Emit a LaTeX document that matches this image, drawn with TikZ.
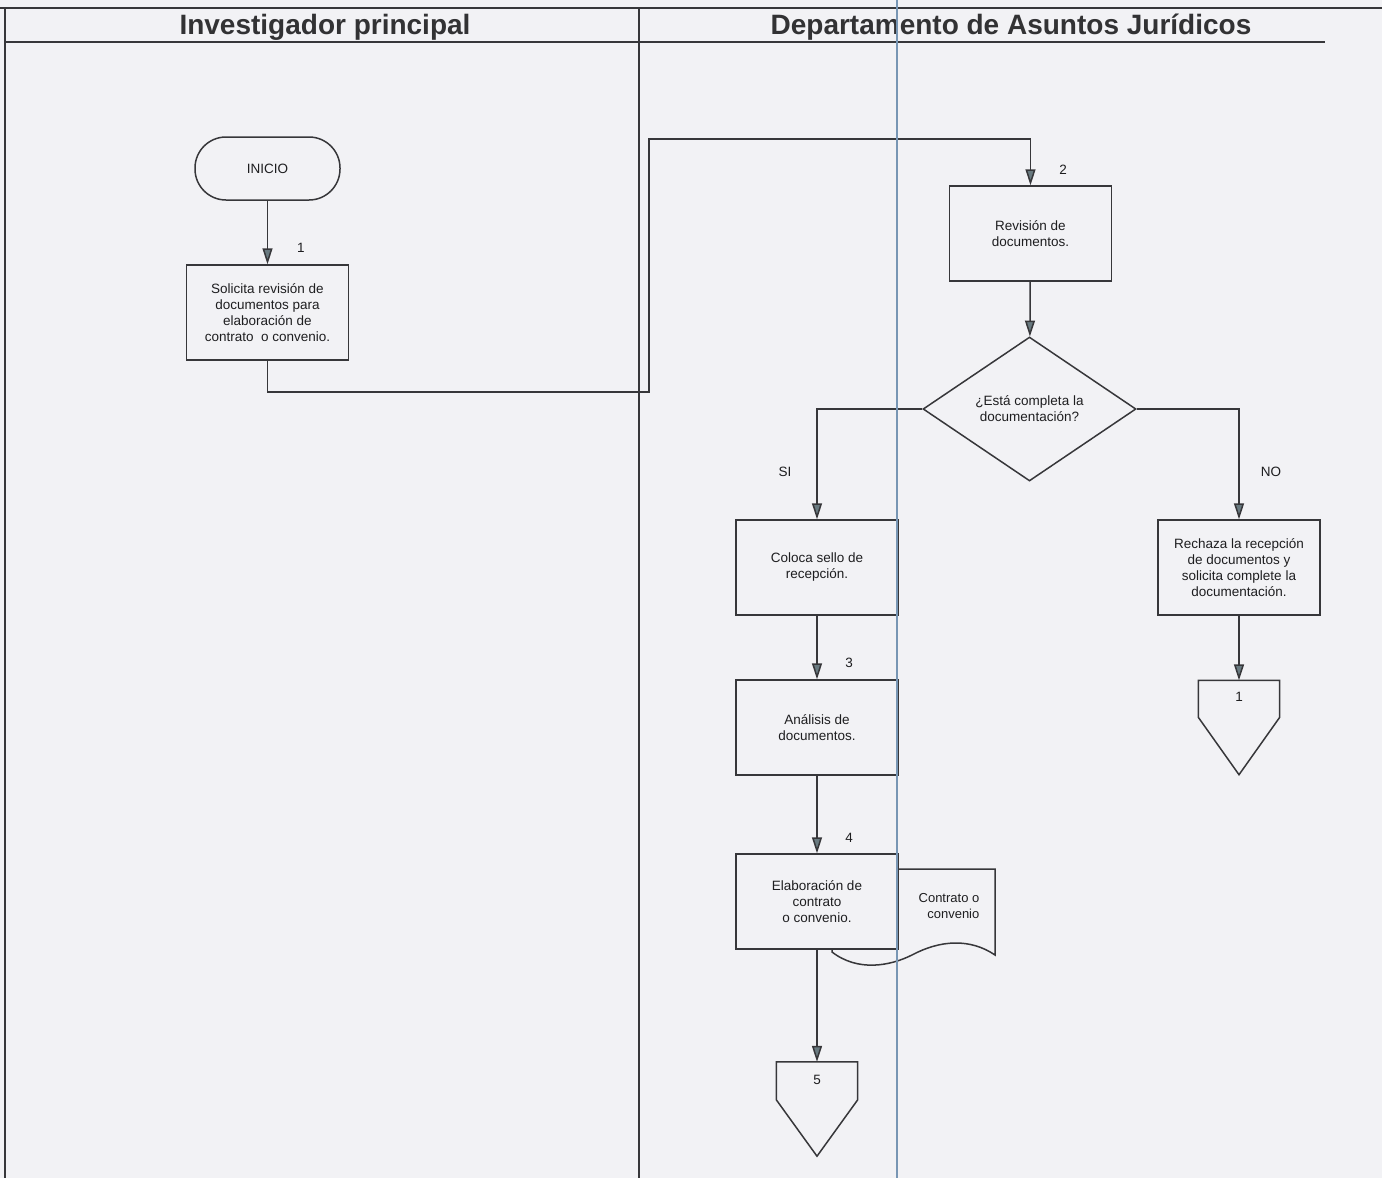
\documentclass[tikz,border=0pt]{standalone}
\usepackage{fontspec}
\setmainfont{Liberation Sans}
\usetikzlibrary{arrows.meta,shapes.geometric}
\definecolor{bgc}{RGB}{242,242,245}
\definecolor{linec}{RGB}{55,55,58}
\definecolor{arrf}{RGB}{105,122,128}
\definecolor{txtc}{RGB}{30,30,32}
\definecolor{scanblue}{RGB}{120,150,180}
\tikzset{
  ln/.style={draw=linec, line width=1.5pt},
  arr/.style={ln, -{Triangle[length=16pt,width=10pt,fill=arrf]}},
  procbox/.style={ln, fill=bgc, rectangle, minimum width=162pt, minimum height=95pt,
     inner sep=0pt, align=center, font=\fontsize{13.5}{16}\selectfont, text=txtc},
  term/.style={ln, fill=bgc, rectangle, rounded corners=31pt, minimum width=145pt,
     minimum height=63pt, inner sep=0pt, font=\fontsize{13.5}{16}\selectfont, text=txtc},
  decis/.style={ln, fill=bgc, diamond, minimum width=213pt, minimum height=144pt,
     inner sep=0pt, align=center, font=\fontsize{13.5}{16}\selectfont, text=txtc},
  offpg/.style={rectangle, minimum width=81pt, minimum height=94pt, inner sep=0pt},
  numlbl/.style={font=\fontsize{13.5}{15}\selectfont, text=txtc},
  hdr/.style={font=\fontsize{28}{32}\selectfont\bfseries, text={rgb,255:red,50;green,50;blue,52}},
}
\begin{document}
\begin{tikzpicture}[x=1pt,y=-1pt]
\useasboundingbox (0,0) rectangle (1382,1178);
\fill[bgc] (0,0) rectangle (1382,1178);
% lane frame
\draw[ln] (0,8) -- (1382,8);
\draw[ln] (5,42) -- (1325,42);
\draw[ln] (5,8) -- (5,1178);
\draw[ln] (639,8) -- (639,1178);
\node[hdr] (h1) at (325,27) {Investigador principal};
\node[hdr] (h2) at (1011,27) {Departamento de Asuntos Jurídicos};

% nodes
\node[term] (inicio) at (267.5,168.5) {INICIO};
\node[procbox] (b1) at (267.5,312.5) {Solicita revisión de\\documentos para\\elaboración de\\contrato~ o convenio.};
\node[procbox] (b2) at (1030.5,233.5) {Revisión de\\documentos.};
\node[decis] (d1) at (1029.5,409) {¿Está completa la\\documentación?};
\node[procbox] (b3) at (817,567.5) {Coloca sello de\\recepción.};
\node[procbox] (bno) at (1239,567.5) {Rechaza la recepción\\de documentos y\\solicita complete la\\documentación.};
\node[procbox] (b4) at (817,727.5) {Análisis de\\documentos.};

% document shape (behind box 5)
\draw[ln, fill=bgc] (832,869) -- (995,869) -- (995,955)
   .. controls (970,938) and (940,940) .. (912,955)
   .. controls (890,966) and (858,972) .. (832,952) -- cycle;
\node[font=\fontsize{13}{16}\selectfont, text=txtc, align=right] (doc) at (949,906) {Contrato o\\convenio};
\node[procbox] (b5) at (817,901.5) {Elaboración de\\contrato\\o convenio.};

% off-page connectors
\node[offpg] (c1) at (1239,727.5) {};
\draw[ln, fill=bgc] (c1.north west) -- (c1.north east) -- ([yshift=-37pt]c1.north east)
   -- (c1.south) -- ([yshift=-37pt]c1.north west) -- cycle;
\node[numlbl] (c1t) at (1239,697) {1};
\node[offpg] (c5) at (817,1109) {};
\draw[ln, fill=bgc] (c5.north west) -- (c5.north east) -- ([yshift=-38pt]c5.north east)
   -- (c5.south) -- ([yshift=-38pt]c5.north west) -- cycle;
\node[numlbl] (c5t) at (817,1080) {5};

% connectors
\draw[arr] (inicio) -- (b1);
\coordinate (w1) at (267.5,392);
\coordinate (w2) at (649,392);
\coordinate (w3) at (649,139);
\coordinate (w4) at (1030.5,139);
\draw[arr] (b1.south) -- (w1) -- (w2) -- (w3) -- (w4) -- (b2.north);
\draw[arr] (b2) -- (d1);
\draw[arr] (d1.west) -| (b3.north);
\draw[arr] (d1.east) -| (bno.north);
\draw[arr] (b3) -- (b4);
\draw[arr] (b4) -- (b5);
\draw[arr] (b5.south) -- (c5.north);
\draw[arr] (bno.south) -- (c1.north);

% labels
\node[numlbl] (l1) at (301,248) {1};
\node[numlbl] (l2) at (1063,170) {2};
\node[numlbl] (l3) at (849,663) {3};
\node[numlbl] (l4) at (849,838) {4};
\node[numlbl] (lsi) at (785,472) {SI};
\node[numlbl] (lno) at (1271,472) {NO};

% scan fold line
\draw[scanblue, line width=2.2pt] (897,0) -- (897,1178);
\end{tikzpicture}
\end{document}
